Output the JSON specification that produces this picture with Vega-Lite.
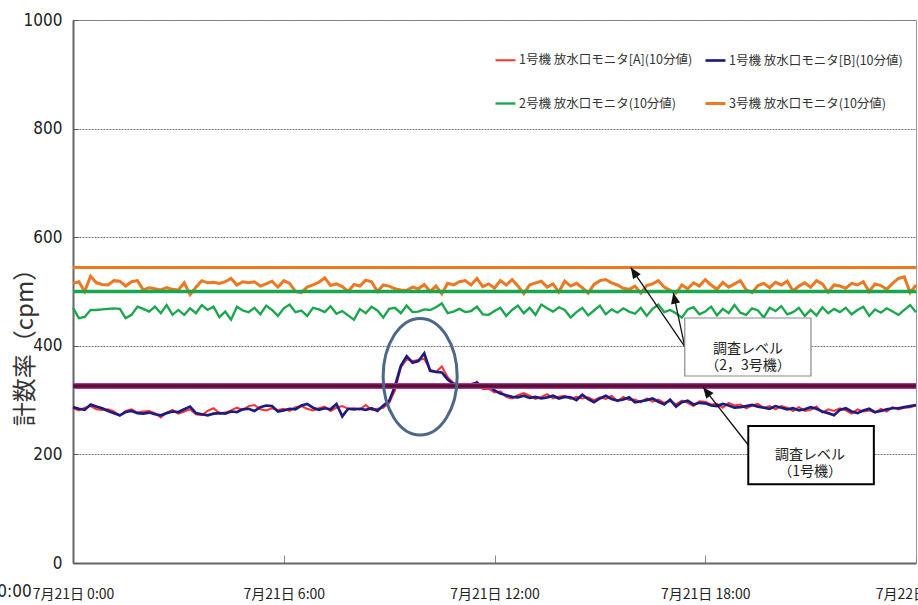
{
  "$schema": "https://vega.github.io/schema/vega-lite/v6.json",
  "width": 843,
  "height": 543,
  "autosize": "none",
  "padding": {"left": 73, "top": 20, "right": 2, "bottom": 42},
  "background": "white",
  "config": {"view": {"stroke": "#9a9a9a", "strokeWidth": 1}, "font": "Noto Sans CJK JP"},
  "datasets": {
    "s": [
      {"m":0,"A":285,"B":287,"u2":470,"u3":515},{"m":10,"A":281,"B":284,"u2":451,"u3":518},{"m":20,"A":286,"B":282,"u2":453,"u3":500},{"m":30,"A":289,"B":292,"u2":466,"u3":528},{"m":40,"A":283,"B":288,"u2":466,"u3":516},{"m":50,"A":282,"B":285,"u2":467,"u3":513},
      {"m":60,"A":283,"B":280,"u2":468,"u3":512},{"m":70,"A":279,"B":276,"u2":469,"u3":520},{"m":80,"A":271,"B":272,"u2":468,"u3":519},{"m":90,"A":280,"B":278,"u2":451,"u3":510},{"m":100,"A":283,"B":280,"u2":457,"u3":518},{"m":110,"A":277,"B":276,"u2":472,"u3":520},
      {"m":120,"A":279,"B":275,"u2":468,"u3":503},{"m":130,"A":280,"B":277,"u2":463,"u3":507},{"m":140,"A":276,"B":274,"u2":472,"u3":505},{"m":150,"A":268,"B":272,"u2":460,"u3":503},{"m":160,"A":277,"B":276,"u2":475,"u3":507},{"m":170,"A":282,"B":279,"u2":457,"u3":504},
      {"m":180,"A":275,"B":278,"u2":466,"u3":503},{"m":190,"A":279,"B":283,"u2":457,"u3":516},{"m":200,"A":283,"B":288,"u2":469,"u3":494},{"m":210,"A":274,"B":276,"u2":460,"u3":508},{"m":220,"A":272,"B":274,"u2":475,"u3":520},{"m":230,"A":280,"B":272,"u2":466,"u3":516},
      {"m":240,"A":285,"B":275,"u2":472,"u3":517},{"m":250,"A":276,"B":276,"u2":453,"u3":515},{"m":260,"A":277,"B":275,"u2":463,"u3":518},{"m":270,"A":281,"B":279,"u2":448,"u3":524},{"m":280,"A":286,"B":278,"u2":472,"u3":512},{"m":290,"A":282,"B":283,"u2":465,"u3":518},
      {"m":300,"A":289,"B":284,"u2":462,"u3":516},{"m":310,"A":291,"B":280,"u2":470,"u3":518},{"m":320,"A":283,"B":287,"u2":458,"u3":510},{"m":330,"A":281,"B":290,"u2":474,"u3":514},{"m":340,"A":285,"B":289,"u2":466,"u3":519},{"m":350,"A":282,"B":279,"u2":455,"u3":508},
      {"m":360,"A":284,"B":281,"u2":469,"u3":520},{"m":370,"A":280,"B":284,"u2":476,"u3":515},{"m":380,"A":287,"B":283,"u2":462,"u3":500},{"m":390,"A":289,"B":290,"u2":465,"u3":498},{"m":400,"A":284,"B":293,"u2":455,"u3":508},{"m":410,"A":281,"B":286,"u2":470,"u3":512},
      {"m":420,"A":285,"B":282,"u2":467,"u3":517},{"m":430,"A":288,"B":285,"u2":462,"u3":525},{"m":440,"A":280,"B":283,"u2":473,"u3":511},{"m":450,"A":286,"B":293,"u2":459,"u3":514},{"m":460,"A":289,"B":270,"u2":464,"u3":509},{"m":470,"A":284,"B":284,"u2":456,"u3":500},
      {"m":480,"A":285,"B":283,"u2":448,"u3":513},{"m":490,"A":283,"B":284,"u2":468,"u3":510},{"m":500,"A":291,"B":282,"u2":460,"u3":521},{"m":510,"A":282,"B":285,"u2":472,"u3":518},{"m":520,"A":284,"B":280,"u2":465,"u3":500},{"m":530,"A":286,"B":290,"u2":452,"u3":512},
      {"m":540,"A":295,"B":298,"u2":468,"u3":510},{"m":550,"A":318,"B":326,"u2":470,"u3":505},{"m":560,"A":360,"B":363,"u2":460,"u3":503},{"m":570,"A":375,"B":381,"u2":474,"u3":502},{"m":580,"A":372,"B":369,"u2":462,"u3":508},{"m":590,"A":374,"B":372,"u2":463,"u3":505},
      {"m":600,"A":376,"B":386,"u2":467,"u3":513},{"m":610,"A":356,"B":354,"u2":466,"u3":500},{"m":620,"A":352,"B":352,"u2":471,"u3":510},{"m":630,"A":362,"B":351,"u2":478,"u3":496},{"m":640,"A":342,"B":338,"u2":460,"u3":515},{"m":650,"A":331,"B":330,"u2":463,"u3":512},
      {"m":660,"A":329,"B":326,"u2":468,"u3":518},{"m":670,"A":330,"B":325,"u2":462,"u3":520},{"m":680,"A":324,"B":329,"u2":464,"u3":512},{"m":690,"A":334,"B":332,"u2":472,"u3":524},{"m":700,"A":320,"B":324,"u2":458,"u3":509},{"m":710,"A":321,"B":327,"u2":457,"u3":514},
      {"m":720,"A":314,"B":318,"u2":464,"u3":506},{"m":730,"A":316,"B":312,"u2":470,"u3":520},{"m":740,"A":306,"B":309,"u2":455,"u3":512},{"m":750,"A":303,"B":306,"u2":466,"u3":522},{"m":760,"A":309,"B":305,"u2":474,"u3":510},{"m":770,"A":313,"B":308,"u2":460,"u3":496},
      {"m":780,"A":308,"B":304,"u2":470,"u3":512},{"m":790,"A":302,"B":306,"u2":457,"u3":516},{"m":800,"A":306,"B":303,"u2":476,"u3":519},{"m":810,"A":311,"B":305,"u2":469,"u3":508},{"m":820,"A":303,"B":308,"u2":463,"u3":514},{"m":830,"A":306,"B":303,"u2":471,"u3":499},
      {"m":840,"A":308,"B":306,"u2":466,"u3":519},{"m":850,"A":302,"B":305,"u2":452,"u3":510},{"m":860,"A":306,"B":300,"u2":462,"u3":515},{"m":870,"A":303,"B":310,"u2":470,"u3":507},{"m":880,"A":305,"B":302,"u2":456,"u3":497},{"m":890,"A":300,"B":296,"u2":465,"u3":513},
      {"m":900,"A":305,"B":303,"u2":474,"u3":520},{"m":910,"A":302,"B":308,"u2":458,"u3":522},{"m":920,"A":308,"B":302,"u2":467,"u3":516},{"m":930,"A":298,"B":299,"u2":461,"u3":512},{"m":940,"A":306,"B":301,"u2":469,"u3":506},{"m":950,"A":300,"B":305,"u2":463,"u3":504},
      {"m":960,"A":301,"B":296,"u2":459,"u3":510},{"m":970,"A":296,"B":298,"u2":470,"u3":497},{"m":980,"A":303,"B":300,"u2":455,"u3":511},{"m":990,"A":297,"B":303,"u2":468,"u3":514},{"m":1000,"A":301,"B":297,"u2":476,"u3":520},{"m":1010,"A":295,"B":292,"u2":462,"u3":508},
      {"m":1020,"A":298,"B":301,"u2":466,"u3":502},{"m":1030,"A":292,"B":288,"u2":460,"u3":497},{"m":1040,"A":299,"B":296,"u2":452,"u3":512},{"m":1050,"A":295,"B":299,"u2":467,"u3":505},{"m":1060,"A":289,"B":292,"u2":471,"u3":516},{"m":1070,"A":298,"B":295,"u2":458,"u3":510},
      {"m":1080,"A":297,"B":294,"u2":463,"u3":522},{"m":1090,"A":292,"B":290,"u2":472,"u3":512},{"m":1100,"A":293,"B":289,"u2":456,"u3":504},{"m":1110,"A":286,"B":293,"u2":468,"u3":517},{"m":1120,"A":295,"B":290,"u2":460,"u3":508},{"m":1130,"A":290,"B":286,"u2":475,"u3":514},
      {"m":1140,"A":292,"B":287,"u2":461,"u3":520},{"m":1150,"A":285,"B":289,"u2":457,"u3":503},{"m":1160,"A":290,"B":291,"u2":469,"u3":498},{"m":1170,"A":293,"B":288,"u2":465,"u3":511},{"m":1180,"A":286,"B":286,"u2":452,"u3":515},{"m":1190,"A":289,"B":284,"u2":470,"u3":507},
      {"m":1200,"A":283,"B":289,"u2":464,"u3":517},{"m":1210,"A":289,"B":286,"u2":473,"u3":512},{"m":1220,"A":286,"B":283,"u2":458,"u3":519},{"m":1230,"A":280,"B":285,"u2":462,"u3":501},{"m":1240,"A":287,"B":281,"u2":470,"u3":510},{"m":1250,"A":280,"B":283,"u2":455,"u3":516},
      {"m":1260,"A":282,"B":287,"u2":466,"u3":508},{"m":1270,"A":288,"B":284,"u2":456,"u3":520},{"m":1280,"A":277,"B":279,"u2":471,"u3":514},{"m":1290,"A":283,"B":276,"u2":460,"u3":499},{"m":1300,"A":280,"B":272,"u2":468,"u3":512},{"m":1310,"A":285,"B":282,"u2":462,"u3":510},
      {"m":1320,"A":281,"B":285,"u2":470,"u3":506},{"m":1330,"A":275,"B":279,"u2":458,"u3":515},{"m":1340,"A":283,"B":276,"u2":466,"u3":512},{"m":1350,"A":279,"B":281,"u2":472,"u3":518},{"m":1360,"A":281,"B":284,"u2":455,"u3":500},{"m":1370,"A":277,"B":278,"u2":467,"u3":514},
      {"m":1380,"A":284,"B":280,"u2":461,"u3":511},{"m":1390,"A":279,"B":283,"u2":469,"u3":504},{"m":1400,"A":287,"B":285,"u2":463,"u3":515},{"m":1410,"A":283,"B":285,"u2":457,"u3":524},{"m":1420,"A":286,"B":287,"u2":466,"u3":527},{"m":1430,"A":287,"B":289,"u2":475,"u3":498},
      {"m":1440,"A":290,"B":291,"u2":462,"u3":512}
    ]
  },
  "layer": [
    {
      "data": {"name": "s"},
      "transform": [{"fold": ["u3", "u2", "A", "B"], "as": ["k", "v"]}],
      "mark": {"type": "line"},
      "encoding": {
        "x": {
          "field": "m", "type": "quantitative",
          "scale": {"domain": [0, 1440], "nice": false, "zero": false},
          "axis": {
            "values": [0, 360, 720, 1080, 1440], "title": null, "grid": false,
            "domainColor": "#666", "domainWidth": 2,
            "tickColor": "#888", "tickSize": -8, "tickWidth": 1,
            "labelExpr": "datum.value == 1440 ? '7月22日 0:00' : '7月21日 ' + (datum.value / 60) + ':00'",
            "labelFont": "Noto Sans CJK JP", "labelFontSize": 14, "labelColor": "#222",
            "labelPadding": 32, "labelBaseline": "top", "labelFlush": false, "labelOverlap": false, "labelBound": false
          }
        },
        "y": {
          "field": "v", "type": "quantitative",
          "scale": {"domain": [0, 1000], "nice": false},
          "axis": {
            "values": [0, 200, 400, 600, 800, 1000], "format": "d", "title": "計数率（cpm）",
            "grid": true, "gridColor": "#777", "gridDash": [2, 1], "gridWidth": 1,
            "domainColor": "#666", "domainWidth": 2,
            "tickColor": "#555", "tickSize": -5,
            "labelFont": "Liberation Sans Narrow, DejaVu Sans Condensed, sans-serif", "labelFontSize": 17, "labelColor": "#222",
            "labelPadding": 16, "labelFlush": false,
            "titleFont": "Noto Sans CJK JP", "titleFontSize": 24, "titleFontWeight": "normal", "titleColor": "#333",
            "titleX": -48, "titleY": 321, "titleAlign": "center", "titleBaseline": "middle"
          }
        },
        "color": {
          "field": "k", "type": "nominal",
          "scale": {"domain": ["A", "u2", "B", "u3"], "range": ["#ff3030", "#1aa64c", "#1c1c80", "#ee7722"]},
          "legend": {
            "orient": "none", "legendX": 421, "legendY": 29, "columns": 2, "columnPadding": 6, "rowPadding": 25,
            "padding": 0, "title": null, "symbolType": "stroke", "symbolSize": 400, "symbolStrokeWidth": 2.5,
            "labelFont": "Noto Sans CJK JP", "labelFontSize": 12.5, "labelColor": "#333", "labelLimit": 300, "labelOffset": 2,
            "labelExpr": "datum.label == 'A' ? '1号機 放水口モニタ[A](10分値)' : datum.label == 'B' ? '1号機 放水口モニタ[B](10分値)' : datum.label == 'u2' ? '2号機 放水口モニタ(10分値)' : '3号機 放水口モニタ(10分値)'"
          }
        },
        "strokeWidth": {
          "field": "k", "type": "nominal",
          "scale": {"domain": ["A", "u2", "B", "u3"], "range": [2, 3, 2, 2.6]},
          "legend": null
        }
      }
    },
    {
      "data": {"values": [{"v": 544}]},
      "mark": {"type": "rule", "color": "#ee7722", "strokeWidth": 3},
      "encoding": {"y": {"field": "v", "type": "quantitative"}}
    },
    {
      "data": {"values": [{"v": 500}]},
      "mark": {"type": "rule", "color": "#1aa64c", "strokeWidth": 3.5},
      "encoding": {"y": {"field": "v", "type": "quantitative"}}
    },
    {
      "data": {"values": [{"v": 326}]},
      "mark": {"type": "rule", "color": "#a43ca0", "strokeWidth": 6},
      "encoding": {"y": {"field": "v", "type": "quantitative"}}
    },
    {
      "data": {"values": [{"v": 326}]},
      "mark": {"type": "rule", "color": "#5e0c36", "strokeWidth": 3.5},
      "encoding": {"y": {"field": "v", "type": "quantitative"}}
    },
    {
      "data": {"values": [{"m": 593, "v": 343}]},
      "mark": {"type": "point", "shape": "M-0.635,0A0.635,1 0 1,0 0.635,0A0.635,1 0 1,0 -0.635,0Z", "size": 13596, "filled": false, "stroke": "#4d6787", "strokeWidth": 3, "opacity": 1},
      "encoding": {"x": {"field": "m", "type": "quantitative"}, "y": {"field": "v", "type": "quantitative"}}
    },
    {
      "data": {"values": [
        {"m": 1045, "v": 398.3, "m2": 952.8, "v2": 544},
        {"m": 1045, "v": 398.3, "m2": 1025.4, "v2": 497.8},
        {"m": 1153.5, "v": 217.3, "m2": 1076.4, "v2": 323.6}
      ]},
      "mark": {"type": "rule", "color": "#111", "strokeWidth": 1.3},
      "encoding": {
        "x": {"field": "m", "type": "quantitative"}, "x2": {"field": "m2"},
        "y": {"field": "v", "type": "quantitative"}, "y2": {"field": "v2"}
      }
    },
    {
      "data": {"values": [{"m": 952.8, "v": 544}]},
      "mark": {"type": "point", "shape": "M0,0L-0.42,1L0.42,1Z", "size": 484, "filled": true, "color": "#111", "opacity": 1, "angle": 326},
      "encoding": {"x": {"field": "m", "type": "quantitative"}, "y": {"field": "v", "type": "quantitative"}}
    },
    {
      "data": {"values": [{"m": 1025.4, "v": 497.8}]},
      "mark": {"type": "point", "shape": "M0,0L-0.42,1L0.42,1Z", "size": 484, "filled": true, "color": "#111", "opacity": 1, "angle": 348},
      "encoding": {"x": {"field": "m", "type": "quantitative"}, "y": {"field": "v", "type": "quantitative"}}
    },
    {
      "data": {"values": [{"m": 1076.4, "v": 323.6}]},
      "mark": {"type": "point", "shape": "M0,0L-0.42,1L0.42,1Z", "size": 484, "filled": true, "color": "#111", "opacity": 1, "angle": 322},
      "encoding": {"x": {"field": "m", "type": "quantitative"}, "y": {"field": "v", "type": "quantitative"}}
    },
    {
      "data": {"values": [{"m": 1045, "m2": 1260.6, "v": 451.2, "v2": 344.4}]},
      "mark": {"type": "rect", "fill": "white", "stroke": "#8a8a8a", "strokeWidth": 1.2},
      "encoding": {
        "x": {"field": "m", "type": "quantitative"}, "x2": {"field": "m2"},
        "y": {"field": "v", "type": "quantitative"}, "y2": {"field": "v2"}
      }
    },
    {
      "data": {"values": [{"m": 1153.5, "m2": 1368, "v": 252.3, "v2": 144.9}]},
      "mark": {"type": "rect", "fill": "white", "stroke": "#000", "strokeWidth": 2},
      "encoding": {
        "x": {"field": "m", "type": "quantitative"}, "x2": {"field": "m2"},
        "y": {"field": "v", "type": "quantitative"}, "y2": {"field": "v2"}
      }
    },
    {
      "data": {"values": [
        {"m": 1153, "v": 394, "t": "調査レベル\n（2，3号機）"},
        {"m": 1259, "v": 199, "t": "調査レベル\n（1号機）"}
      ]},
      "mark": {"type": "text", "font": "Noto Sans CJK JP", "fontSize": 14, "color": "#222", "align": "center", "baseline": "middle", "lineBreak": "\n", "lineHeight": 17},
      "encoding": {"x": {"field": "m", "type": "quantitative"}, "y": {"field": "v", "type": "quantitative"}, "text": {"field": "t"}}
    },
    {
      "data": {"values": [{"m": -100, "v": -53, "t": "0:00"}]},
      "mark": {"type": "text", "font": "Liberation Sans Narrow, DejaVu Sans Condensed, sans-serif", "fontSize": 17, "color": "#222", "align": "center", "baseline": "middle"},
      "encoding": {"x": {"field": "m", "type": "quantitative"}, "y": {"field": "v", "type": "quantitative"}, "text": {"field": "t"}}
    }
  ]
}
